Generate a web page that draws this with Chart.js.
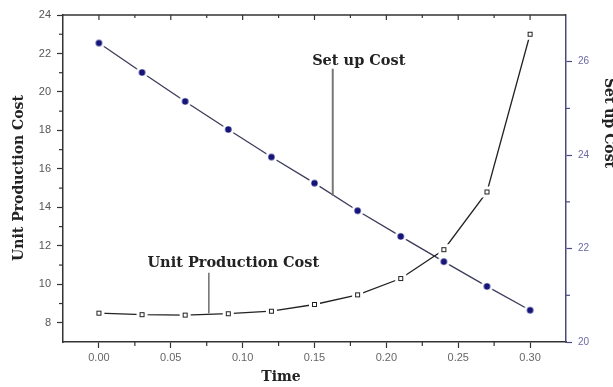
<!DOCTYPE html>
<html>
<head>
<meta charset="utf-8">
<script src="https://cdn.jsdelivr.net/npm/chart.js@4/dist/chart.umd.min.js"></script>
<style>
  html, body { margin: 0; padding: 0; background: #fff; }
  #wrap { width: 613px; height: 387px; position: relative; }
</style>
</head>
<body>
<div id="wrap"><canvas id="grafico"></canvas></div>
<script>
// Valores de tempo (eixo X)
const tempos = [0, 0.03, 0.06, 0.09, 0.12, 0.15, 0.18, 0.21, 0.24, 0.27, 0.30];
// Unit Production Cost (eixo esquerdo)
const custoUnitario = [8.5, 8.42, 8.4, 8.47, 8.6, 8.95, 9.45, 10.3, 11.8, 14.8, 23.0];
// Set up Cost (eixo direito)
const custoSetup = [26.4, 25.77, 25.15, 24.55, 23.96, 23.4, 22.81, 22.26, 21.72, 21.19, 20.68];

// Marcas dos eixos
const ticksX = [0, 0.05, 0.10, 0.15, 0.20, 0.25, 0.30];
const minorX = [0.025, 0.075, 0.125, 0.175, 0.225, 0.275];
const ticksEsq = [8, 10, 12, 14, 16, 18, 20, 22, 24];
const minorEsq = [9, 11, 13, 15, 17, 19, 21, 23];
const ticksDir = [20, 22, 24, 26];
const minorDir = [21, 23, 25];

// Rótulos com linha de chamada (em unidades dos dados)
const anotacoes = [
  { texto: 'Set up Cost', eixo: 'yDir', xTexto: 0.1808, yTexto: 26.02, xLinha: 0.1627, yIni: 25.85, yFim: 23.13, cor: '#777', largura: 2 },
  { texto: 'Unit Production Cost', eixo: 'yEsq', xTexto: 0.0935, yTexto: 11.12, xLinha: 0.0765, yIni: 10.6, yFim: 8.5, cor: '#555', largura: 1.3 }
];

const fonteTitulo = 'bold 14px "DejaVu Serif", serif';
const fonteAnot = 'bold 14.5px "DejaVu Serif", serif';

// Marcadores com "halo" branco (linha interrompida perto do ponto)
function marcadorQuadrado() {
  const c = document.createElement('canvas');
  c.width = 13; c.height = 13;
  const g = c.getContext('2d');
  g.fillStyle = '#fff';
  g.fillRect(1, 1, 11, 11);
  g.strokeStyle = '#222';
  g.lineWidth = 1;
  g.strokeRect(4.5, 4.5, 4, 4);
  return c;
}

function marcadorCirculo() {
  const c = document.createElement('canvas');
  c.width = 13; c.height = 13;
  const g = c.getContext('2d');
  g.fillStyle = '#fff';
  g.beginPath(); g.arc(6.5, 6.5, 6, 0, Math.PI * 2); g.fill();
  g.fillStyle = '#15157a';
  g.beginPath(); g.arc(6.5, 6.5, 3.2, 0, Math.PI * 2); g.fill();
  return c;
}

function linha(ctx, x1, y1, x2, y2) {
  ctx.beginPath();
  ctx.moveTo(x1, y1);
  ctx.lineTo(x2, y2);
  ctx.stroke();
}

// Moldura superior, marcas menores, anotações e títulos dos eixos
const enfeites = {
  id: 'enfeites',
  afterDraw(chart) {
    const { ctx, chartArea: a, scales } = chart;
    const sx = scales.x, se = scales.yEsq, sd = scales.yDir;
    ctx.save();

    ctx.strokeStyle = '#333';
    ctx.lineWidth = 1.5;
    linha(ctx, a.left, a.top, a.right, a.top);

    ctx.lineWidth = 1.2;
    ticksX.forEach(v => { const p = sx.getPixelForValue(v); linha(ctx, p, a.top, p, a.top + 5); });
    minorX.forEach(v => { const p = sx.getPixelForValue(v); linha(ctx, p, a.top, p, a.top + 3); });
    minorX.forEach(v => { const p = sx.getPixelForValue(v); linha(ctx, p, a.bottom, p, a.bottom + 4); });
    minorEsq.forEach(v => { const p = se.getPixelForValue(v); linha(ctx, a.left - 4, p, a.left, p); });

    ctx.strokeStyle = '#4a4a80';
    minorDir.forEach(v => { const p = sd.getPixelForValue(v); linha(ctx, a.right, p, a.right + 4, p); });

    // anotações
    anotacoes.forEach(an => {
      const sy = scales[an.eixo];
      const px = sx.getPixelForValue(an.xLinha);
      ctx.strokeStyle = an.cor;
      ctx.lineWidth = an.largura;
      linha(ctx, px, sy.getPixelForValue(an.yIni), px, sy.getPixelForValue(an.yFim));
      ctx.fillStyle = '#222';
      ctx.font = fonteAnot;
      ctx.textAlign = 'center';
      ctx.textBaseline = 'middle';
      ctx.fillText(an.texto, sx.getPixelForValue(an.xTexto), sy.getPixelForValue(an.yTexto));
    });

    // títulos dos eixos
    ctx.fillStyle = '#222';
    ctx.font = fonteTitulo;
    ctx.textAlign = 'center';
    ctx.textBaseline = 'middle';
    ctx.fillText('Time', 281, 377);

    ctx.save();
    ctx.translate(19, 178);
    ctx.rotate(-Math.PI / 2);
    ctx.fillText('Unit Production Cost', 0, 0);
    ctx.restore();

    ctx.save();
    ctx.translate(609, 123);
    ctx.rotate(Math.PI / 2);
    ctx.fillText('Set up Cost', 0, 0);
    ctx.restore();

    ctx.restore();
  }
};

const fonteTicks = { family: '"Liberation Sans", Arial, sans-serif', size: 11 };
const fonteTicksDir = { family: '"Liberation Sans", Arial, sans-serif', size: 10 };

new Chart(document.getElementById('grafico'), {
  type: 'line',
  data: {
    labels: tempos,
    datasets: [
      {
        label: 'Unit Production Cost',
        data: tempos.map((t, i) => ({ x: t, y: custoUnitario[i] })),
        yAxisID: 'yEsq',
        borderColor: '#222',
        borderWidth: 1.3,
        pointStyle: marcadorQuadrado(),
        tension: 0,
        fill: false
      },
      {
        label: 'Set up Cost',
        data: tempos.map((t, i) => ({ x: t, y: custoSetup[i] })),
        yAxisID: 'yDir',
        borderColor: '#3c3c5c',
        borderWidth: 1.3,
        pointStyle: marcadorCirculo(),
        tension: 0,
        fill: false
      }
    ]
  },
  options: {
    responsive: true,
    maintainAspectRatio: false,
    animation: false,
    devicePixelRatio: 1,
    layout: { padding: { top: 15, left: 0, right: 0, bottom: 0 } },
    plugins: {
      legend: { display: false },
      tooltip: { enabled: false }
    },
    scales: {
      x: {
        type: 'linear',
        min: -0.025,
        max: 0.325,
        afterBuildTicks: s => { s.ticks = ticksX.map(v => ({ value: v })); },
        afterFit: s => { s.height = 45; },
        border: { display: true, color: '#333', width: 1.5 },
        grid: { drawOnChartArea: false, drawTicks: true, tickLength: 6, tickColor: '#333', tickWidth: 1.2 },
        ticks: {
          callback: v => Number(v).toFixed(2),
          font: fonteTicks,
          color: '#666',
          padding: 3,
          maxRotation: 0,
          autoSkip: false
        }
      },
      yEsq: {
        position: 'left',
        min: 7,
        max: 24,
        afterBuildTicks: s => { s.ticks = ticksEsq.map(v => ({ value: v })); },
        afterFit: s => { s.width = 63; },
        border: { display: true, color: '#333', width: 1.5 },
        grid: { drawOnChartArea: false, drawTicks: true, tickLength: 6, tickColor: '#333', tickWidth: 1.2 },
        ticks: { font: fonteTicks, color: '#555', padding: 6, autoSkip: false }
      },
      yDir: {
        position: 'right',
        min: 20,
        max: 27,
        afterBuildTicks: s => { s.ticks = ticksDir.map(v => ({ value: v })); },
        afterFit: s => { s.width = 47; },
        border: { display: true, color: '#4a4a80', width: 1.5 },
        grid: { drawOnChartArea: false, drawTicks: true, tickLength: 6, tickColor: '#4a4a80', tickWidth: 1.2 },
        ticks: { font: fonteTicksDir, color: '#6a6aa6', padding: 6, autoSkip: false }
      }
    }
  },
  plugins: [enfeites]
});
</script>
</body>
</html>
